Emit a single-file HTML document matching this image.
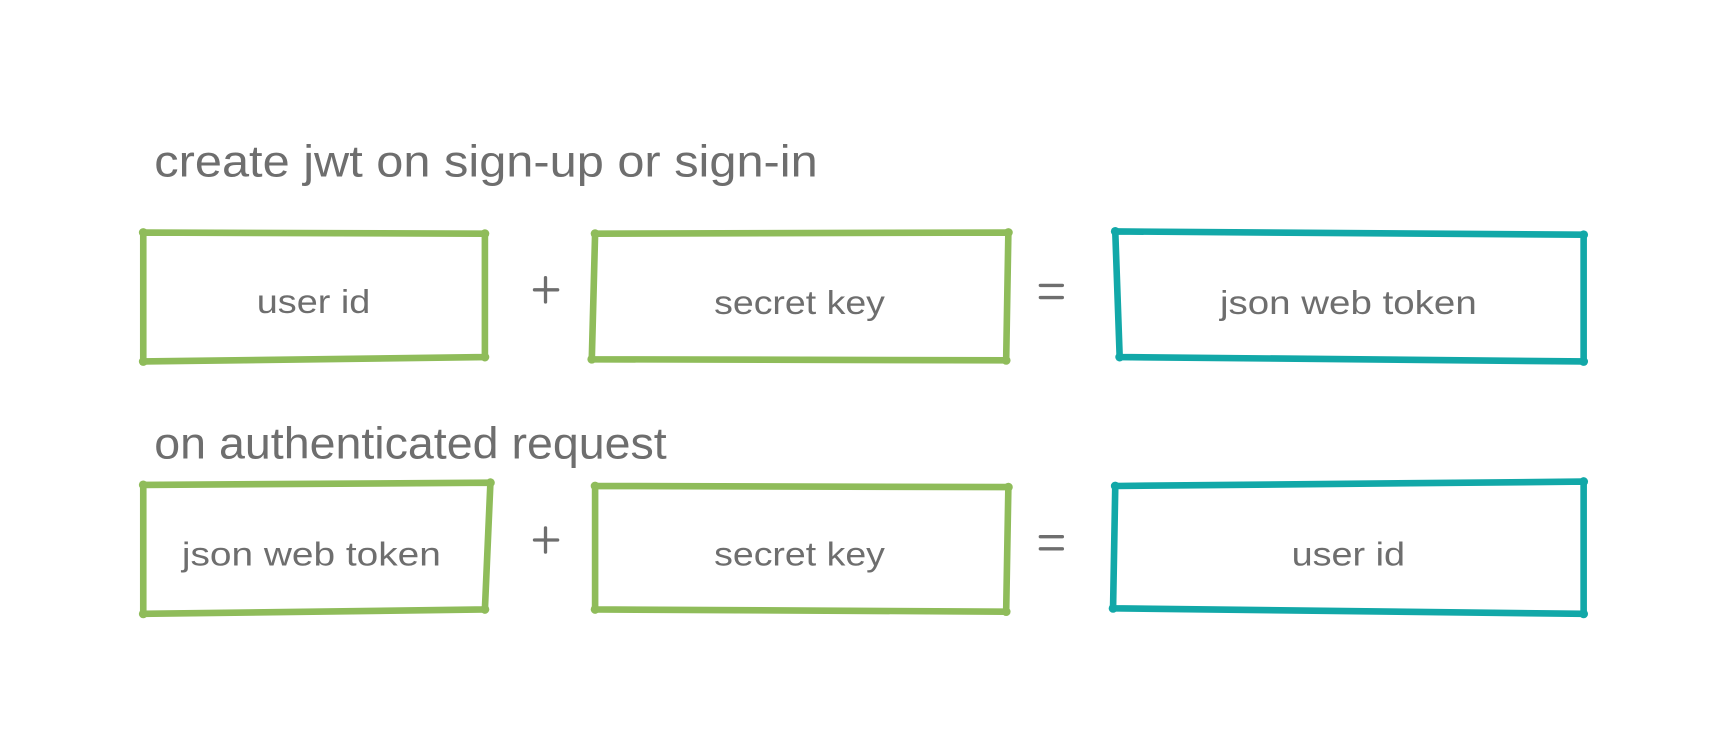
<!DOCTYPE html>
<html><head><meta charset="utf-8"><style>html,body{margin:0;padding:0;background:#fff}svg{display:block}</style></head>
<body>
<svg width="1728" height="756" viewBox="0 0 1568 686" xmlns="http://www.w3.org/2000/svg">
<g fill="none" stroke-width="6" stroke-linecap="round" stroke-linejoin="round">
<g stroke="#8fbc5a">
<polygon points="130,211 440,212 440,324 130,328"/>
<polygon points="540,212 915,211 913,327 537,326"/>
<polygon points="130,440 445,438 440,553 130,557"/>
<polygon points="540,441 915,442 913,555 540,553"/>
</g>
<g stroke="#12a8a8">
<polygon points="1012,210 1437,213 1437,328 1016,324"/>
<polygon points="1012,441 1437,437 1437,557 1010,552"/>
</g>
</g>
<g fill="#8fbc5a">
<circle cx="130" cy="211" r="4"/><circle cx="440" cy="212" r="4"/><circle cx="440" cy="324" r="4"/><circle cx="130" cy="328" r="4"/>
<circle cx="540" cy="212" r="4"/><circle cx="915" cy="211" r="4"/><circle cx="913" cy="327" r="4"/><circle cx="537" cy="326" r="4"/>
<circle cx="130" cy="440" r="4"/><circle cx="445" cy="438" r="4"/><circle cx="440" cy="553" r="4"/><circle cx="130" cy="557" r="4"/>
<circle cx="540" cy="441" r="4"/><circle cx="915" cy="442" r="4"/><circle cx="913" cy="555" r="4"/><circle cx="540" cy="553" r="4"/>
</g>
<g fill="#12a8a8">
<circle cx="1012" cy="210" r="4"/><circle cx="1437" cy="213" r="4"/><circle cx="1437" cy="328" r="4"/><circle cx="1016" cy="324" r="4"/>
<circle cx="1012" cy="441" r="4"/><circle cx="1437" cy="437" r="4"/><circle cx="1437" cy="557" r="4"/><circle cx="1010" cy="552" r="4"/>
</g>
<g font-family="Liberation Sans Narrow, Liberation Sans, sans-serif" fill="#6e6e6e">
<text x="140" y="160" font-size="40" textLength="602" lengthAdjust="spacingAndGlyphs">create jwt on sign-up or sign-in</text>
<text x="140" y="416" font-size="40" textLength="465" lengthAdjust="spacingAndGlyphs">on authenticated request</text>
<g font-size="30">
<text x="233" y="284" textLength="103" lengthAdjust="spacingAndGlyphs">user id</text>
<text x="648" y="285" textLength="155" lengthAdjust="spacingAndGlyphs">secret key</text>
<text x="1107" y="285" textLength="233" lengthAdjust="spacingAndGlyphs">json web token</text>
<text x="165" y="513" textLength="235" lengthAdjust="spacingAndGlyphs">json web token</text>
<text x="648" y="513" textLength="155" lengthAdjust="spacingAndGlyphs">secret key</text>
<text x="1172" y="513" textLength="103" lengthAdjust="spacingAndGlyphs">user id</text>
</g>
</g>
<g stroke="#6e6e6e" stroke-width="3" stroke-linecap="round">
<line x1="495" y1="252" x2="495" y2="274"/><line x1="485" y1="263" x2="506" y2="263"/>
<line x1="495" y1="479" x2="495" y2="501"/><line x1="485" y1="490" x2="506" y2="490"/>
<line x1="944" y1="259" x2="964" y2="259"/><line x1="944" y1="270" x2="964" y2="270"/>
<line x1="944" y1="487" x2="964" y2="487"/><line x1="944" y1="498" x2="964" y2="498"/>
</g>
</svg>
</body></html>
